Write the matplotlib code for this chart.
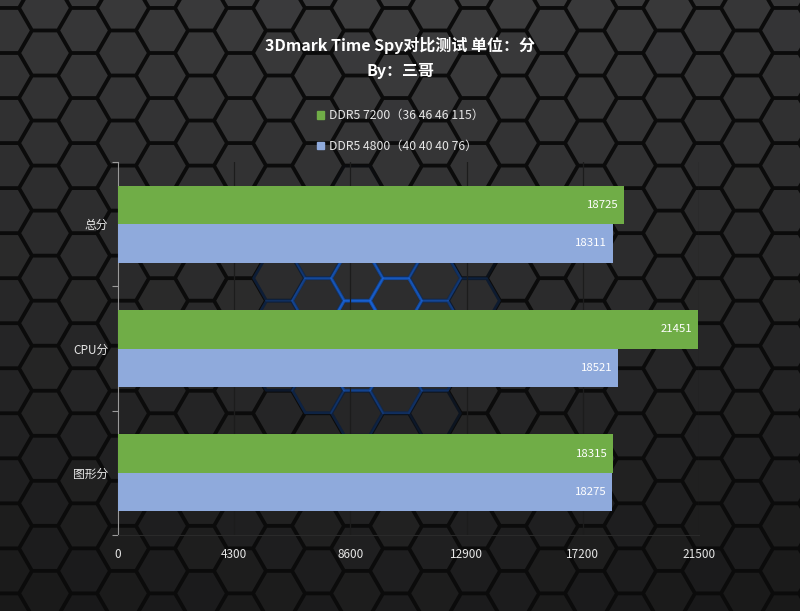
import numpy as np
import matplotlib
matplotlib.use("Agg")
import matplotlib.pyplot as plt
from matplotlib.collections import PolyCollection
from matplotlib.patches import Patch

plt.rcParams['font.family'] = ['Noto Sans CJK SC', 'DejaVu Sans']

# ---- data ----
categories = ["总分", "CPU分", "图形分"]
series_names = ["DDR5 7200（36 46 46 115）", "DDR5 4800（40 40 40 76）"]
ddr5_7200 = [18725, 21451, 18315]
ddr5_4800 = [18311, 18521, 18275]
x_ticks = [0, 4300, 8600, 12900, 17200, 21500]
title = "3Dmark Time Spy对比测试 单位：分"
subtitle = "By：三哥"

W, H = 800, 611
fig = plt.figure(figsize=(W / 100, H / 100), dpi=100)
fig.patch.set_facecolor("#0c0c0c")

# ---- hexagon background ----
bg = fig.add_axes([0, 0, 1, 1], zorder=-5)
bg.set_xlim(0, W)
bg.set_ylim(H, 0)
bg.axis("off")
bg.add_patch(plt.Rectangle((0, 0), W, H, color="#0b0b0b", zorder=0))
R = 26.0
dx = 1.5 * R
dy = np.sqrt(3) * R
ang = np.deg2rad(np.arange(0, 360, 60))
polys, fcs, outl, ecs = [], [], [], []
glow_c = (372, 315)
for ci in range(-1, int(W / dx) + 3):
    cx = 45 + ci * dx
    y0 = 53 - (ci % 2) * dy / 2
    for ri in range(-2, int(H / dy) + 3):
        cy = y0 + ri * dy
        r_in = R - 2.2
        polys.append(np.c_[cx + r_in * np.cos(ang), cy + r_in * np.sin(ang)])
        t = np.clip(cy / H, 0, 1)
        g = (0x3d * (1 - t) + 0x1c * t) / 255
        g *= 1 - 0.12 * min(1, abs(cx - 400) / 400)
        fcs.append((g, g, min(1, g * 1.02)))
        d = np.hypot((cx - glow_c[0]) / 125, (cy - glow_c[1]) / 130)
        if d < 1.0:
            a = 0.8 * (1 - d) ** 0.9
            outl.append(np.c_[cx + (R - 0.6) * np.cos(ang), cy + (R - 0.6) * np.sin(ang)])
            ecs.append((0.10, 0.42, 0.92, a))
bg.add_collection(PolyCollection(polys, facecolors=fcs, edgecolors="none", zorder=1))
bg.add_collection(PolyCollection(outl, facecolors="none", edgecolors=ecs, linewidths=2.0, zorder=2))

# ---- main chart ----
ax = fig.add_axes([118 / W, 1 - 535 / H, (699 - 118) / W, (535 - 162) / H])
ax.set_facecolor("none")
y = np.arange(len(categories))
h = 0.31
green = "#70AD47"
blue = "#8FAADC"
b1 = ax.barh(y - h / 2, ddr5_7200, height=h, color=green, label=series_names[0], zorder=3)
b2 = ax.barh(y + h / 2, ddr5_4800, height=h, color=blue, label=series_names[1], zorder=3)
for bars, vals in ((b1, ddr5_7200), (b2, ddr5_4800)):
    for rect, v in zip(bars, vals):
        ax.annotate(f"{v}", xy=(v, rect.get_y() + rect.get_height() / 2),
                    xytext=(-4, 0), textcoords="offset points",
                    ha="right", va="center", color="white", fontsize=8.2, zorder=4)

ax.set_xlim(x_ticks[0], x_ticks[-1])
ax.set_ylim(len(categories) - 0.5, -0.5)
ax.set_xticks(x_ticks)
ax.set_xticklabels([str(t) for t in x_ticks])
ax.set_yticks(y)
ax.set_yticklabels(categories)
ax.set_yticks(np.arange(-0.5, len(categories), 1.0), minor=True)
ax.tick_params(axis="x", length=0, pad=9, colors="#e6e6e6", labelsize=8.5)
ax.tick_params(axis="y", which="major", length=0, pad=7, colors="#e6e6e6", labelsize=8.5)
ax.tick_params(axis="y", which="minor", length=4, color="#9a9a9a", width=0.8)
ax.grid(axis="x", color="#1c1c1c", linewidth=0.9, zorder=0)
for s in ("top", "right"):
    ax.spines[s].set_visible(False)
ax.spines["left"].set_color("#9a9a9a")
ax.spines["left"].set_linewidth(0.8)
ax.spines["bottom"].set_color("#2a2a2a")
ax.spines["bottom"].set_linewidth(0.8)

fig.text(0.5, 1 - 45 / H, title, ha="center", va="center", color="white",
         fontsize=11.5, fontweight="bold")
fig.text(0.5, 1 - 71 / H, subtitle, ha="center", va="center", color="white",
         fontsize=11.5, fontweight="bold")

handles = [Patch(color=green), Patch(color=blue)]
leg = fig.legend(handles, series_names, loc="upper left",
                 bbox_to_anchor=(306 / W, 1 - 98 / H), frameon=False,
                 handlelength=0.6, handleheight=0.6, handletextpad=0.35,
                 labelspacing=1.45, fontsize=8.8)
for t in leg.get_texts():
    t.set_color("#e6e6e6")

fig.savefig("out.png", dpi=100, facecolor=fig.get_facecolor())
